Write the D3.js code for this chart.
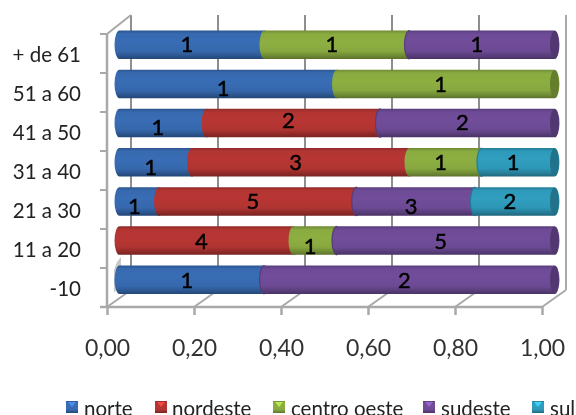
<!DOCTYPE html>
<html><head><meta charset="utf-8">
<style>html,body{margin:0;padding:0;background:#fff}svg{display:block}text{font-family:Lato,"Open Sans",sans-serif}</style>
<script src="https://cdn.jsdelivr.net/npm/d3@7"></script></head>
<body><div id="chart"></div>
<script>
const ageGroups = ["-10","11 a 20","21 a 30","31 a 40","41 a 50","51 a 60","+ de 61"];
const seriesNames = ["norte","nordeste","centro oeste","sudeste","sul"];
const norte       = [1,0,1,1,1,1,1];
const nordeste    = [0,4,5,3,2,0,0];
const centroOeste = [0,1,0,1,0,1,1];
const sudeste     = [2,5,3,0,2,0,1];
const sul         = [0,0,2,1,0,0,0];
const xTicks = [0,0.2,0.4,0.6,0.8,1];
const seriesColors = ["#3668AD","#B03432","#87A83F","#6C4A94","#2E97B7"];
// label vertical nudges (px), rows in ageGroups order, per series
const nudges = {"-10":[0,0,0,0,0],"11 a 20":[0,0,5,0,0],"21 a 30":[5,0,0,5,0],"31 a 40":[5,0,0,0,0],"41 a 50":[4,-3,0,-1,0],"51 a 60":[4,0,0,0,0],"+ de 61":[-1,0,-1,-1,0]};

const W=576,H=415;
const svg=d3.select("#chart").append("svg").attr("width",W).attr("height",H);
const defs=svg.append("defs");
const soft=defs.append("filter").attr("id","soft");
soft.append("feGaussianBlur").attr("stdDeviation",0.45);
seriesColors.forEach((c,i)=>{
  const g=defs.append("linearGradient").attr("id","g"+i).attr("x1",0).attr("x2",0).attr("y1",0).attr("y2",1);
  const col=d3.color(c);
  [[0,col.darker(0.55)],[0.12,col.brighter(0.05)],[0.4,col.brighter(0.12)],[0.72,col],[0.9,col.darker(0.6)],[1,col.darker(1.1)]]
    .forEach(([o,k])=>g.append("stop").attr("offset",o).attr("stop-color",k));
});
const rows=ageGroups.map((a,i)=>({age:a,norte:norte[i],nordeste:nordeste[i],"centro oeste":centroOeste[i],sudeste:sudeste[i],sul:sul[i]}));
const stack=d3.stack().keys(seriesNames).offset(d3.stackOffsetExpand)(rows);

// axis frame scales
const xFront=d3.scaleLinear().domain([0,1]).range([107,542]);
const xBar=d3.scaleLinear().domain([0,1]).range([119.5,554.5]);
const yFrame=d3.scaleBand().domain(ageGroups).range([307,34]);
const yBar=d3.scaleBand().domain(ageGroups).range([299.5,25]).paddingInner(0.272).paddingOuter(0.14);
const depthX=24,depthY=-17,axisColor="#A9A9A9";
const root=svg.append("g").attr("filter","url(#soft)");

// back wall and floor
const walls=root.append("g").attr("fill","none").attr("stroke-width",2);
xTicks.forEach(t=>{
  const x=xFront(t);
  walls.append("line").attr("x1",x).attr("y1",307).attr("x2",x+depthX).attr("y2",307+depthY).attr("stroke",axisColor);
  walls.append("line").attr("x1",x+depthX).attr("y1",307+depthY).attr("x2",x+depthX).attr("y2",15).attr("stroke",t===1?axisColor:"#8E8E8E");
});
walls.append("line").attr("x1",107).attr("y1",34).attr("x2",131).attr("y2",15).attr("stroke",axisColor);
root.append("path").attr("d","M117,262 L121,257 L121,283 L114,293 L114,270 Z").attr("fill","#C8C8C8");

// axes via d3
const yAxis=root.append("g").attr("transform","translate(107,0)")
  .call(d3.axisLeft(yFrame).tickSizeOuter(0).tickSize(0).tickPadding(26));
yAxis.select(".domain").remove();
yAxis.append("line").attr("y1",34).attr("y2",307).attr("stroke",axisColor).attr("stroke-width",2.5);
yAxis.selectAll(".tick text").attr("font-size",20.5).attr("fill","#222").attr("dy","0.4em");
const bandEdges=ageGroups.map(a=>yFrame(a)).concat([yFrame.range()[0]]);
yAxis.selectAll("line.edge").data(bandEdges).enter().append("line").attr("class","edge")
  .attr("x1",-7).attr("x2",0).attr("y1",d=>d).attr("y2",d=>d).attr("stroke",axisColor).attr("stroke-width",2);

const fmt=v=>d3.format(".2f")(v).replace(".",",");
const xAxis=root.append("g").attr("transform","translate(0,307)")
  .call(d3.axisBottom(xFront).tickValues(xTicks).tickFormat(fmt).tickSize(8).tickPadding(25));
xAxis.select(".domain").remove();
xAxis.append("line").attr("x1",100).attr("x2",542).attr("stroke",axisColor).attr("stroke-width",2.5);
xAxis.selectAll(".tick line").attr("stroke",axisColor).attr("stroke-width",2.5);
xAxis.selectAll(".tick text").attr("font-size",23).attr("fill","#333");

// cylinders
const bh=yBar.bandwidth(),capW=5;
function segPath(x0,x1,y,h){
  return `M${x0},${y} L${x1},${y} A${capW},${h/2} 0 0 1 ${x1},${y+h} L${x0},${y+h} A${capW},${h/2} 0 0 1 ${x0},${y} Z`;
}
const barsG=root.append("g");
// left to right, so each segment's curved start sits over the previous one
stack.forEach(s=>{
  const i=seriesNames.indexOf(s.key);
  const cell=barsG.selectAll(null).data(s.filter(d=>d[1]-d[0]>0)).enter().append("g");
  cell.append("path")
    .attr("d",d=>segPath(xBar(d[0]),xBar(d[1]),yBar(d.data.age),bh))
    .attr("fill",`url(#g${i})`);
  cell.filter(d=>d[1]>=0.9999).append("ellipse")
    .attr("cx",d=>xBar(d[1])).attr("cy",d=>yBar(d.data.age)+bh/2)
    .attr("rx",capW-0.5).attr("ry",bh/2-0.5)
    .attr("fill",d3.color(seriesColors[i]).darker(0.8));
  cell.filter(d=>d[0]>0 && i>=3).append("path")
    .attr("d",d=>{const x=xBar(d[0]),y=yBar(d.data.age);return `M${x},${y} A${capW},${bh/2} 0 0 0 ${x},${y+bh}`;})
    .attr("fill","none").attr("stroke",d3.color(seriesColors[i]).darker(0.6)).attr("stroke-width",1.2);
});
// data labels
stack.forEach((s,i)=>{
  barsG.selectAll(null).data(s.filter(d=>d[1]-d[0]>0)).enter().append("text")
    .attr("x",d=>xBar((d[0]+d[1])/2)-5).attr("y",d=>yBar(d.data.age)+bh/2+(nudges[d.data.age][i]))
    .attr("dy","0.36em").attr("text-anchor","middle").attr("font-size",22).attr("fill","#000")
    .attr("stroke","#000").attr("stroke-width",0.45)
    .text(d=>d.data[s.key]);
});

// legend
const legX=[66,155,273,423,532],textX=[84,172,291,441,550];
const leg=root.append("g");
seriesNames.forEach((n,i)=>{
  leg.append("rect").attr("x",legX[i]).attr("y",401).attr("width",12).attr("height",12).attr("fill",`url(#g${i})`);
  leg.append("path").attr("d",`M${legX[i]+2},402 L${legX[i]+10},402 L${legX[i]+6},407 Z`).attr("fill",d3.color(seriesColors[i]).brighter(0.9));
  leg.append("text").attr("x",textX[i]).attr("y",415.5).attr("font-size",20.5).attr("fill","#222").text(n);
});
</script></body></html>
